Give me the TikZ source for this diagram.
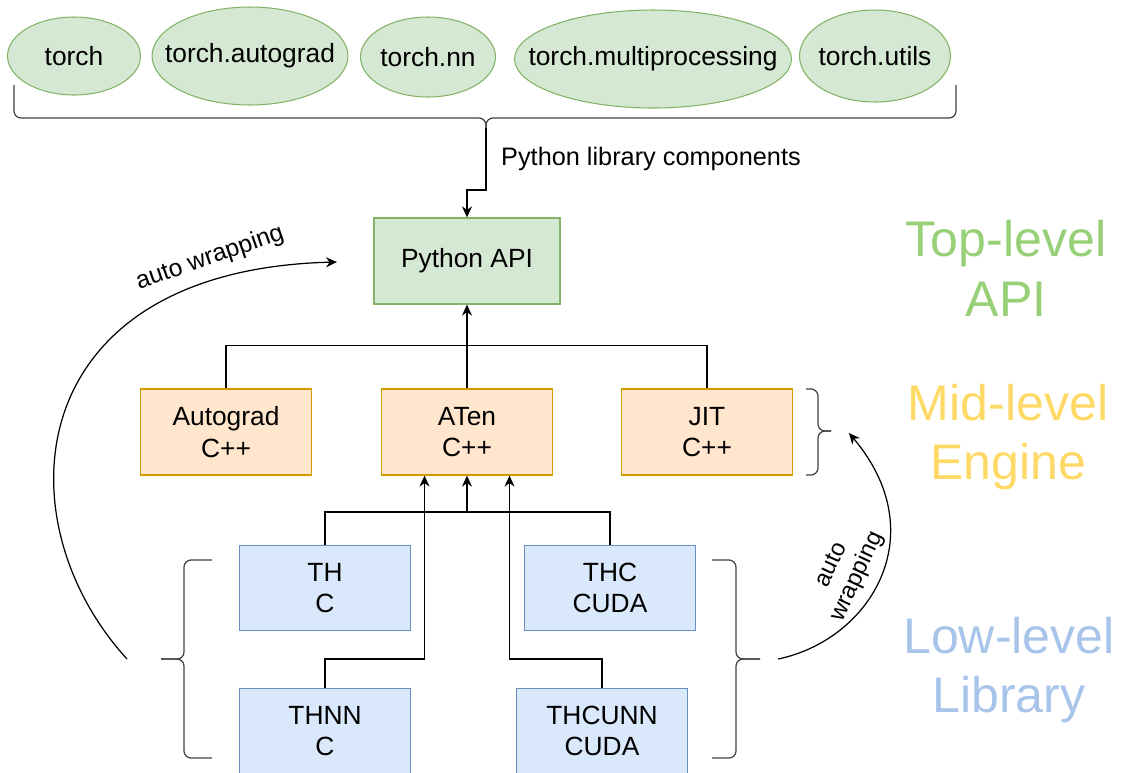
\documentclass[tikz,border=0pt]{standalone}
\usepackage{fontspec}
\setmainfont{Liberation Sans}
\usetikzlibrary{shapes.geometric, arrows.meta, positioning}

\definecolor{pyfill}{HTML}{D5E8D4}
\definecolor{pydraw}{HTML}{82B366}
\definecolor{midfill}{HTML}{FFE6CC}
\definecolor{middraw}{HTML}{D79B00}
\definecolor{lowfill}{HTML}{DAE8FC}
\definecolor{lowdraw}{HTML}{6C8EBF}
\definecolor{toptext}{HTML}{97D077}
\definecolor{midtext}{HTML}{FFD966}
\definecolor{lowtext}{HTML}{A9C4EB}

\begin{document}
\begin{tikzpicture}[
	x=0.02cm, y=-0.02cm,
	every node/.style={font=\fontsize{15}{18}\selectfont},
	module/.style={ellipse, draw=pydraw, fill=pyfill, line width=0.6pt, inner sep=0pt},
	apibox/.style={rectangle, draw=pydraw, fill=pyfill, line width=0.7pt, minimum width=3.72cm, minimum height=1.72cm, align=center},
	engbox/.style={rectangle, draw=middraw, fill=midfill, line width=0.7pt, minimum width=3.42cm, minimum height=1.72cm, align=center},
	libbox/.style={rectangle, draw=lowdraw, fill=lowfill, line width=0.7pt, minimum width=3.42cm, minimum height=1.7cm, align=center},
	brc/.style={line width=0.7pt, draw=black!75, rounded corners=4pt},
	link/.style={line width=0.7pt},
	conn/.style={line width=0.7pt, -{Stealth[length=2.2mm, width=2mm]}},
	level/.style={font=\fontsize{28.5}{34}\selectfont, align=center},
]
	\useasboundingbox (0,0) rectangle (1125,772);

	% python modules (top row)
	\node[module, minimum width=2.66cm, minimum height=1.56cm, label={center:torch}] (torch) at (74,56) {};
	\node[module, minimum width=3.92cm, minimum height=1.96cm, label={center:torch.autograd}] (tautograd) at (250,56) {};
	\node[module, minimum width=2.7cm, minimum height=1.6cm, label={center:torch.nn}] (tnn) at (428,57) {};
	\node[module, minimum width=5.54cm, minimum height=1.96cm, label={center:torch.multiprocessing}] (tmulti) at (653,59) {};
	\node[module, minimum width=3.02cm, minimum height=1.84cm, label={center:torch.utils}] (tutils) at (875,56) {};

	% brace under the modules
	\coordinate (libtip) at (486,128);
	\draw[brc] (14,85) -- (14,118) -- (486,118) -- (libtip);
	\draw[brc] (956,85) -- (956,118) -- (486,118) -- (libtip);

	% Python API
	\node[apibox] (pyapi) at (467,261) {Python API};
	\draw[conn] (libtip) -- ++(0,62) -| (pyapi.north);
	\node[anchor=west, font=\fontsize{14.4}{17}\selectfont] (pylib) at (495,159) {Python library components};

	% C++ engine
	\node[engbox] (autograd) at (226,432) {Autograd\\C++};
	\node[engbox] (aten) at (467,432) {ATen\\C++};
	\node[engbox] (jit) at (707,432) {JIT\\C++};
	\draw[conn] (aten) -- (pyapi);
	\draw[link] (autograd.north) -- ++(0,-43) -| (jit.north);

	% brace right of JIT
	\coordinate (jittip) at (831,431);
	\draw[brc] (806,389) -- (818,389) -- (818,431) -- (jittip);
	\draw[brc] (806,475) -- (818,475) -- (818,431) -- (jittip);

	% low-level libraries
	\node[libbox] (th) at (325,588) {TH\\C};
	\node[libbox] (thc) at (610,588) {THC\\CUDA};
	\node[libbox] (thnn) at (325,731) {THNN\\C};
	\node[libbox] (thcunn) at (602,731) {THCUNN\\CUDA};

	\coordinate (lowjoin) at (467,512);
	\draw[link] (th.north) |- (lowjoin) -| (thc.north);
	\draw[conn] (lowjoin) -- (aten.south);
	\draw[conn] (thnn.north) -- ++(0,-29) -| ([xshift=-0.85cm]aten.south);
	\draw[conn] (thcunn.north) -- ++(0,-29) -| ([xshift=0.85cm]aten.south);

	% braces round the libraries
	\coordinate (leftip) at (161,659);
	\coordinate (rightip) at (760,659);
	\draw[brc] (212,560) -- (184,560) -- (184,659) -- (leftip);
	\draw[brc] (212,758) -- (184,758) -- (184,659) -- (leftip);
	\draw[brc] (712,560) -- (736,560) -- (736,659) -- (rightip);
	\draw[brc] (712,758) -- (736,758) -- (736,659) -- (rightip);

	% auto wrapping arcs
	\coordinate (wrapA) at (127,659);
	\coordinate (wrapAend) at (337,262);
	\coordinate (wrapB) at (778,659);
	\coordinate (wrapBend) at (849,433);
	\draw[conn] (wrapA) .. controls (0,520) and (20,270) .. (wrapAend);
	\draw[conn] (wrapB) .. controls (870,640) and (935,535) .. (wrapBend);
	\node[rotate=19, font=\fontsize{14}{17}\selectfont] (wrapAlbl) at (210,258) {auto wrapping};
	\node[rotate=65, align=center, inner sep=0pt, font=\fontsize{13.5}{16}\selectfont] (wrapBlbl) at (845,571) {auto\\wrapping};

	% level labels
	\node[level, text=toptext] (toplvl) at (1006,268) {Top-level\\API};
	\node[level, text=midtext] (midlvl) at (1008,437) {Mid-level\\Engine};
	\node[level, text=lowtext] (lowlvl) at (1009,670) {Low-level\\Library};

\end{tikzpicture}
\end{document}
